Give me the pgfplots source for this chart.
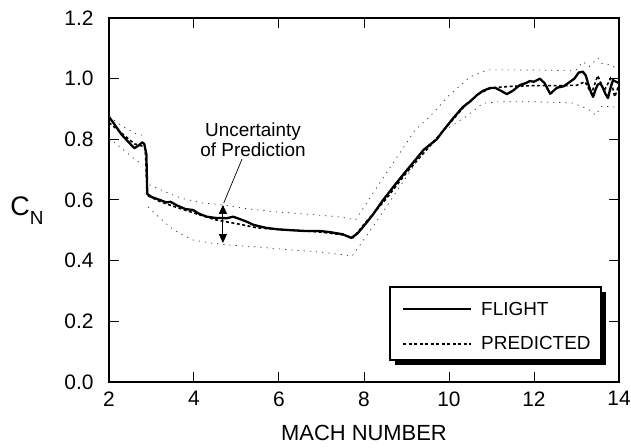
\documentclass[border=0pt]{standalone}
\usepackage{fontspec}
\setmainfont{Liberation Sans}
\usepackage{pgfplots}
\pgfplotsset{compat=1.18}
\usetikzlibrary{arrows.meta}

\begin{document}
\begin{tikzpicture}
\useasboundingbox (-109bp,-66bp) rectangle (522bp,382bp);
\begin{axis}[
  scale only axis,
  width=510bp, height=364bp,
  at={(0,0)}, anchor=south west,
  xmin=2, xmax=14, ymin=0, ymax=1.2,
  xtick={2,4,...,14},
  ytick={0,0.2,0.4,0.6,0.8,1.0,1.2},
  tick align=inside,
  major tick length=10bp,
  every tick/.style={black, line width=1bp},
  axis line style={line width=1.8bp},
  /pgf/number format/assume math mode=true,
  ticklabel style={font=\fontsize{21}{23}\selectfont},
  yticklabel style={/pgf/number format/.cd, fixed, fixed zerofill, precision=1, /tikz/.cd, xshift=-12bp},
  xticklabel style={yshift=-6bp},
  xlabel={MACH NUMBER},
  xlabel style={font=\fontsize{22}{24}\selectfont, at={(rel axis cs:0.5,0)}, anchor=center, yshift=-51bp},
  ylabel={{\fontsize{27}{29}\selectfont C}\raisebox{-9bp}{\fontsize{19}{21}\selectfont N}},
  ylabel style={rotate=-90, at={(rel axis cs:0,0.47)}, anchor=center, xshift=-82bp},
  legend style={at={(rel axis cs:0.574,0.226)}, anchor=north west,
    draw=none, fill=none, inner sep=0pt, row sep=16bp,
    font=\fontsize{19}{21}\selectfont,
    /tikz/every odd column/.append style={column sep=7bp}},
  legend cell align=left,
  legend image code/.code={\draw[#1] (0bp,0bp) -- (68bp,0bp);},
  clip=false,
]

% legend frame with its solid shadow
\fill[black] (rel axis cs:0.5608,0.2473) rectangle (rel axis cs:0.9745,0.0467);
\draw[fill=white, line width=1.3bp] (rel axis cs:0.5510,0.2610) rectangle (rel axis cs:0.9647,0.0604);

% flight-measured normal-force coefficient
\addplot[black, line width=2.3bp, line join=round] coordinates {
(2.0,0.874) (2.1,0.855) (2.2,0.835) (2.3,0.815) (2.4,0.800) (2.5,0.785)
(2.6,0.771) (2.7,0.780) (2.78,0.790) (2.83,0.785) (2.88,0.750) (2.9,0.620)
(3.0,0.610) (3.2,0.600) (3.35,0.592) (3.45,0.594) (3.6,0.582) (3.8,0.570)
(3.98,0.567) (4.1,0.556) (4.3,0.545) (4.5,0.541) (4.78,0.540) (4.92,0.545)
(5.1,0.536) (5.25,0.528) (5.4,0.518) (5.7,0.508) (6.0,0.503) (6.33,0.500)
(6.6,0.498) (6.96,0.498) (7.2,0.494) (7.5,0.487) (7.7,0.475) (7.85,0.490)
(8.0,0.515) (8.2,0.550) (8.45,0.600) (8.7,0.645) (8.9,0.680) (9.15,0.722)
(9.4,0.765) (9.71,0.800) (9.9,0.835) (10.1,0.870) (10.33,0.907) (10.5,0.925)
(10.66,0.946) (10.8,0.960) (10.96,0.969) (11.1,0.969) (11.25,0.958) (11.36,0.949)
(11.5,0.960) (11.67,0.979) (11.8,0.985) (11.9,0.992) (12.0,0.990) (12.14,1.000)
(12.25,0.985) (12.38,0.950) (12.54,0.970) (12.7,0.975) (12.85,0.990) (12.95,1.000)
(13.05,1.020) (13.15,1.023) (13.22,1.010) (13.27,0.985) (13.33,0.960) (13.39,0.940)
(13.45,0.965) (13.5,0.980) (13.56,0.985) (13.62,0.970) (13.68,0.950) (13.74,0.936)
(13.8,0.970) (13.86,0.995) (13.93,0.990) (14.0,0.985)
};
\addlegendentry{FLIGHT}

% predicted coefficient
\addplot[black, line width=1.6bp, dash pattern=on 3bp off 2.5bp] coordinates {
(2.0,0.855) (2.3,0.820) (2.6,0.785) (2.85,0.775) (2.9,0.615) (3.2,0.595)
(3.5,0.580) (4.0,0.557) (4.5,0.535) (5.0,0.522) (5.5,0.508) (6.0,0.503)
(6.5,0.499) (7.0,0.494) (7.5,0.485) (7.75,0.476) (8.0,0.520) (8.5,0.600)
(9.0,0.690) (9.5,0.770) (10.0,0.850) (10.4,0.915) (10.7,0.950) (11.0,0.970)
(11.5,0.975) (12.0,0.977) (12.5,0.977) (13.0,0.978) (13.2,0.990) (13.35,0.950)
(13.5,1.010) (13.65,0.960) (13.8,1.000) (13.9,0.940) (14.0,0.980)
};
\addlegendentry{PREDICTED}

% uncertainty band, upper bound
\addplot[black!80, line width=0.7bp, dash pattern=on 1.2bp off 5bp, forget plot] coordinates {
(2.0,0.875) (2.3,0.845) (2.6,0.820) (2.88,0.810)
};
\addplot[black!80, line width=0.7bp, dash pattern=on 1.2bp off 5bp, forget plot] coordinates {
(2.95,0.650) (3.3,0.628) (3.7,0.606) (4.2,0.590) (4.68,0.584) (5.2,0.572)
(6.0,0.560) (6.8,0.552) (7.5,0.543) (7.8,0.534) (8.2,0.620) (8.78,0.742)
(9.2,0.830) (9.55,0.875) (10.0,0.945) (10.5,1.006) (10.9,1.029) (11.5,1.029)
(12.3,1.028) (12.85,1.026) (13.0,1.030) (13.15,1.056) (13.3,1.040) (13.5,1.068)
(13.6,1.050) (13.8,1.045) (14.0,1.030)
};
% uncertainty band, lower bound
\addplot[black!80, line width=0.7bp, dash pattern=on 1.2bp off 5bp, forget plot] coordinates {
(2.0,0.805) (2.3,0.770) (2.6,0.735) (2.8,0.715)
};
\addplot[black!80, line width=0.7bp, dash pattern=on 1.2bp off 5bp, forget plot] coordinates {
(2.92,0.577) (3.2,0.540) (3.44,0.510) (3.7,0.487) (3.98,0.468) (4.4,0.458)
(4.78,0.452) (5.5,0.445) (6.33,0.435) (7.0,0.428) (7.5,0.420) (7.72,0.415)
(8.0,0.470) (8.53,0.578) (9.3,0.740) (9.9,0.830) (10.4,0.875) (10.8,0.919)
(11.2,0.924) (12.0,0.924) (12.9,0.920) (13.1,0.910) (13.3,0.897) (13.45,0.880)
(13.6,0.910) (13.86,0.907) (14.0,0.905)
};

% annotation
\node[align=center, font=\fontsize{19}{20}\selectfont] at (axis cs:5.39,0.798)
  {Uncertainty\\of Prediction};
\draw[line width=0.7bp] (axis cs:5.13,0.735) -- (axis cs:4.70,0.590);
\draw[line width=0.9bp, {Triangle[length=9bp,width=8bp]}-{Triangle[length=9bp,width=8bp]}]
  (axis cs:4.68,0.584) -- (axis cs:4.68,0.458);
\end{axis}
\end{tikzpicture}
\end{document}
